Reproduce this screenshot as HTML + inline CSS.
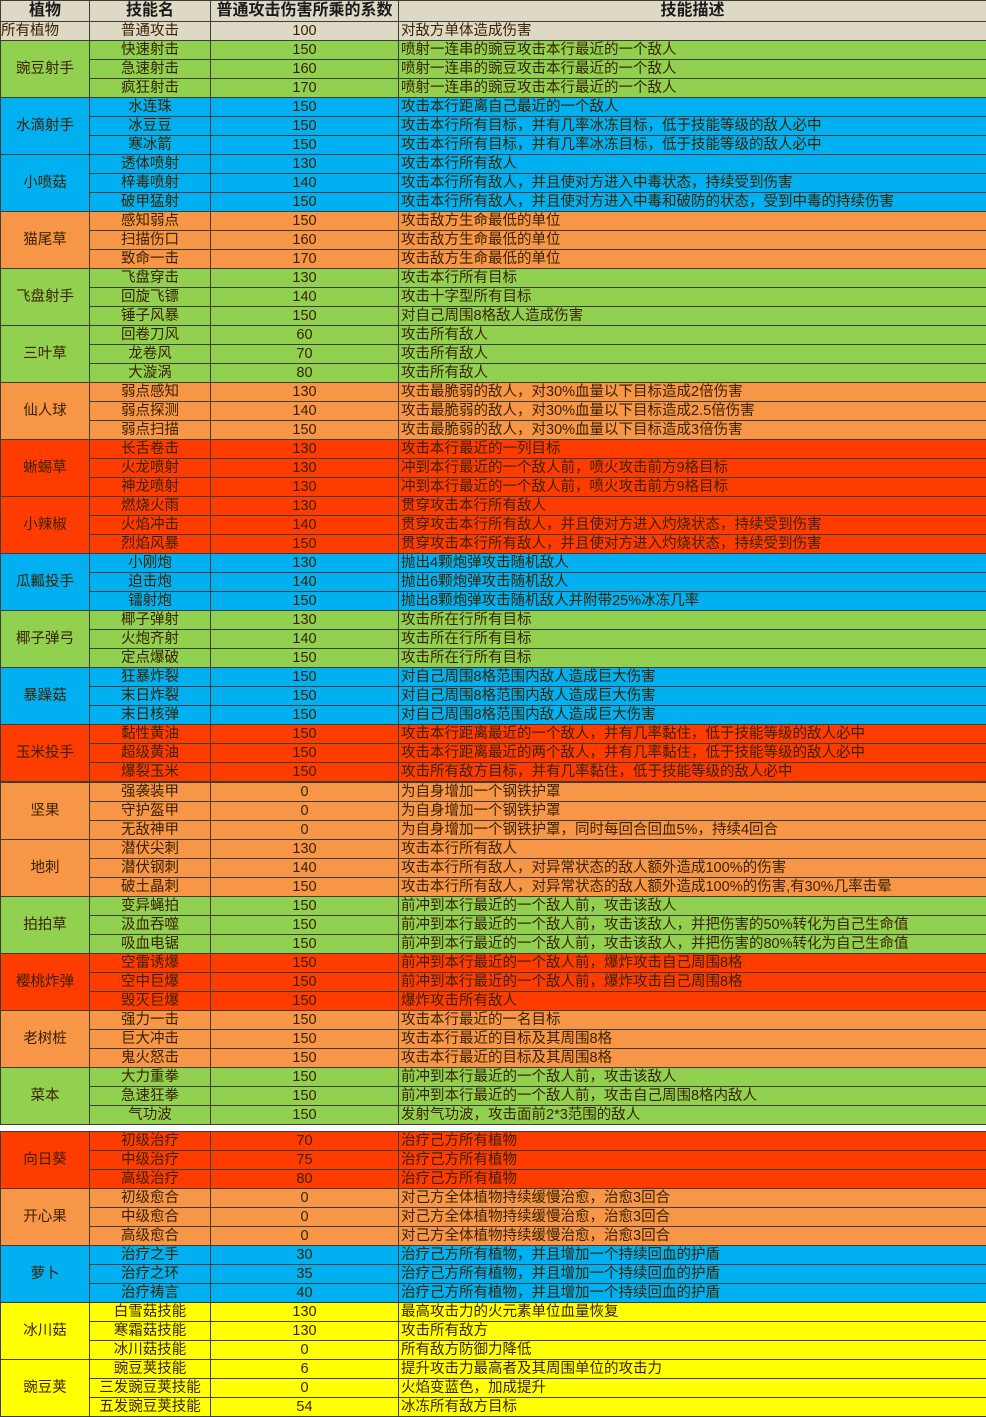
<!DOCTYPE html>
<html><head><meta charset="utf-8"><style>
body{margin:0;width:986px;height:1416px;background:#fff;position:relative;overflow:hidden;font-family:"Liberation Sans","Noto Sans CJK SC",sans-serif;}
table{position:absolute;left:0;width:986px;border-collapse:collapse;table-layout:fixed;font-size:14.5px;color:#3a2200;}
td{border:1px solid #3c3c3c;padding:0;height:19px;line-height:17px;text-align:center;white-space:nowrap;overflow:hidden;box-sizing:border-box;}
td.d{text-align:left;padding-left:2px;}
th{border:1px solid #3c3c3c;height:20px;font-weight:bold;font-size:16px;line-height:18px;background:#ddd9c4;color:#1a1a1a;padding:0;}
.g td{background:#92d050}.b td{background:#00b0f0}.o td{background:#f79646}.r td{background:#ff3c00}.y td{background:#ffff00}.w td{background:#ddd9c4}
</style></head><body>
<table style="top:0">
<colgroup><col style="width:89px"><col style="width:121px"><col style="width:188px"><col style="width:588px"></colgroup>
<tr><th>植物</th><th>技能名</th><th>普通攻击伤害所乘的系数</th><th>技能描述</th></tr>
<tr class="w"><td style="text-align:left">所有植物</td><td>普通攻击</td><td>100</td><td class="d">对敌方单体造成伤害</td></tr>
<tbody class="g"><tr><td rowspan="3">豌豆射手</td><td>快速射击</td><td>150</td><td class="d">喷射一连串的豌豆攻击本行最近的一个敌人</td></tr>
<tr><td>急速射击</td><td>160</td><td class="d">喷射一连串的豌豆攻击本行最近的一个敌人</td></tr>
<tr><td>疯狂射击</td><td>170</td><td class="d">喷射一连串的豌豆攻击本行最近的一个敌人</td></tr></tbody>
<tbody class="b"><tr><td rowspan="3">水滴射手</td><td>水连珠</td><td>150</td><td class="d">攻击本行距离自己最近的一个敌人</td></tr>
<tr><td>冰豆豆</td><td>150</td><td class="d">攻击本行所有目标，并有几率冰冻目标，低于技能等级的敌人必中</td></tr>
<tr><td>寒冰箭</td><td>150</td><td class="d">攻击本行所有目标，并有几率冰冻目标，低于技能等级的敌人必中</td></tr></tbody>
<tbody class="b"><tr><td rowspan="3">小喷菇</td><td>透体喷射</td><td>130</td><td class="d">攻击本行所有敌人</td></tr>
<tr><td>梓毒喷射</td><td>140</td><td class="d">攻击本行所有敌人，并且使对方进入中毒状态，持续受到伤害</td></tr>
<tr><td>破甲猛射</td><td>150</td><td class="d">攻击本行所有敌人，并且使对方进入中毒和破防的状态，受到中毒的持续伤害</td></tr></tbody>
<tbody class="o"><tr><td rowspan="3">猫尾草</td><td>感知弱点</td><td>150</td><td class="d">攻击敌方生命最低的单位</td></tr>
<tr><td>扫描伤口</td><td>160</td><td class="d">攻击敌方生命最低的单位</td></tr>
<tr><td>致命一击</td><td>170</td><td class="d">攻击敌方生命最低的单位</td></tr></tbody>
<tbody class="g"><tr><td rowspan="3">飞盘射手</td><td>飞盘穿击</td><td>130</td><td class="d">攻击本行所有目标</td></tr>
<tr><td>回旋飞镖</td><td>140</td><td class="d">攻击十字型所有目标</td></tr>
<tr><td>锤子风暴</td><td>150</td><td class="d">对自己周围8格敌人造成伤害</td></tr></tbody>
<tbody class="g"><tr><td rowspan="3">三叶草</td><td>回卷刀风</td><td>60</td><td class="d">攻击所有敌人</td></tr>
<tr><td>龙卷风</td><td>70</td><td class="d">攻击所有敌人</td></tr>
<tr><td>大漩涡</td><td>80</td><td class="d">攻击所有敌人</td></tr></tbody>
<tbody class="o"><tr><td rowspan="3">仙人球</td><td>弱点感知</td><td>130</td><td class="d">攻击最脆弱的敌人，对30%血量以下目标造成2倍伤害</td></tr>
<tr><td>弱点探测</td><td>140</td><td class="d">攻击最脆弱的敌人，对30%血量以下目标造成2.5倍伤害</td></tr>
<tr><td>弱点扫描</td><td>150</td><td class="d">攻击最脆弱的敌人，对30%血量以下目标造成3倍伤害</td></tr></tbody>
<tbody class="r"><tr><td rowspan="3">蜥蜴草</td><td>长舌卷击</td><td>130</td><td class="d">攻击本行最近的一列目标</td></tr>
<tr><td>火龙喷射</td><td>130</td><td class="d">冲到本行最近的一个敌人前，喷火攻击前方9格目标</td></tr>
<tr><td>神龙喷射</td><td>130</td><td class="d">冲到本行最近的一个敌人前，喷火攻击前方9格目标</td></tr></tbody>
<tbody class="r"><tr><td rowspan="3">小辣椒</td><td>燃烧火雨</td><td>130</td><td class="d">贯穿攻击本行所有敌人</td></tr>
<tr><td>火焰冲击</td><td>140</td><td class="d">贯穿攻击本行所有敌人，并且使对方进入灼烧状态，持续受到伤害</td></tr>
<tr><td>烈焰风暴</td><td>150</td><td class="d">贯穿攻击本行所有敌人，并且使对方进入灼烧状态，持续受到伤害</td></tr></tbody>
<tbody class="b"><tr><td rowspan="3">瓜瓤投手</td><td>小刚炮</td><td>130</td><td class="d">抛出4颗炮弹攻击随机敌人</td></tr>
<tr><td>迫击炮</td><td>140</td><td class="d">抛出6颗炮弹攻击随机敌人</td></tr>
<tr><td>镭射炮</td><td>150</td><td class="d">抛出8颗炮弹攻击随机敌人并附带25%冰冻几率</td></tr></tbody>
<tbody class="g"><tr><td rowspan="3">椰子弹弓</td><td>椰子弹射</td><td>130</td><td class="d">攻击所在行所有目标</td></tr>
<tr><td>火炮齐射</td><td>140</td><td class="d">攻击所在行所有目标</td></tr>
<tr><td>定点爆破</td><td>150</td><td class="d">攻击所在行所有目标</td></tr></tbody>
<tbody class="b"><tr><td rowspan="3">暴躁菇</td><td>狂暴炸裂</td><td>150</td><td class="d">对自己周围8格范围内敌人造成巨大伤害</td></tr>
<tr><td>末日炸裂</td><td>150</td><td class="d">对自己周围8格范围内敌人造成巨大伤害</td></tr>
<tr><td>末日核弹</td><td>150</td><td class="d">对自己周围8格范围内敌人造成巨大伤害</td></tr></tbody>
<tbody class="r"><tr><td rowspan="3">玉米投手</td><td>黏性黄油</td><td>150</td><td class="d">攻击本行距离最近的一个敌人，并有几率黏住，低于技能等级的敌人必中</td></tr>
<tr><td>超级黄油</td><td>150</td><td class="d">攻击本行距离最近的两个敌人，并有几率黏住，低于技能等级的敌人必中</td></tr>
<tr><td>爆裂玉米</td><td>150</td><td class="d">攻击所有敌方目标，并有几率黏住，低于技能等级的敌人必中</td></tr></tbody>
</table>

<table style="top:782px">
<colgroup><col style="width:89px"><col style="width:121px"><col style="width:188px"><col style="width:588px"></colgroup>
<tbody class="o"><tr><td rowspan="3">坚果</td><td>强袭装甲</td><td>0</td><td class="d">为自身增加一个钢铁护罩</td></tr>
<tr><td>守护盔甲</td><td>0</td><td class="d">为自身增加一个钢铁护罩</td></tr>
<tr><td>无敌神甲</td><td>0</td><td class="d">为自身增加一个钢铁护罩，同时每回合回血5%，持续4回合</td></tr></tbody>
<tbody class="o"><tr><td rowspan="3">地刺</td><td>潜伏尖刺</td><td>130</td><td class="d">攻击本行所有敌人</td></tr>
<tr><td>潜伏钢刺</td><td>140</td><td class="d">攻击本行所有敌人，对异常状态的敌人额外造成100%的伤害</td></tr>
<tr><td>破土晶刺</td><td>150</td><td class="d">攻击本行所有敌人，对异常状态的敌人额外造成100%的伤害,有30%几率击晕</td></tr></tbody>
<tbody class="g"><tr><td rowspan="3">拍拍草</td><td>变异蝇拍</td><td>150</td><td class="d">前冲到本行最近的一个敌人前，攻击该敌人</td></tr>
<tr><td>汲血吞噬</td><td>150</td><td class="d">前冲到本行最近的一个敌人前，攻击该敌人，并把伤害的50%转化为自己生命值</td></tr>
<tr><td>吸血电锯</td><td>150</td><td class="d">前冲到本行最近的一个敌人前，攻击该敌人，并把伤害的80%转化为自己生命值</td></tr></tbody>
<tbody class="r"><tr><td rowspan="3">樱桃炸弹</td><td>空雷诱爆</td><td>150</td><td class="d">前冲到本行最近的一个敌人前，爆炸攻击自己周围8格</td></tr>
<tr><td>空中巨爆</td><td>150</td><td class="d">前冲到本行最近的一个敌人前，爆炸攻击自己周围8格</td></tr>
<tr><td>毁灭巨爆</td><td>150</td><td class="d">爆炸攻击所有敌人</td></tr></tbody>
<tbody class="o"><tr><td rowspan="3">老树桩</td><td>强力一击</td><td>150</td><td class="d">攻击本行最近的一名目标</td></tr>
<tr><td>巨大冲击</td><td>150</td><td class="d">攻击本行最近的目标及其周围8格</td></tr>
<tr><td>鬼火怒击</td><td>150</td><td class="d">攻击本行最近的目标及其周围8格</td></tr></tbody>
<tbody class="g"><tr><td rowspan="3">菜本</td><td>大力重拳</td><td>150</td><td class="d">前冲到本行最近的一个敌人前，攻击该敌人</td></tr>
<tr><td>急速狂拳</td><td>150</td><td class="d">前冲到本行最近的一个敌人前，攻击自己周围8格内敌人</td></tr>
<tr><td>气功波</td><td>150</td><td class="d">发射气功波，攻击面前2*3范围的敌人</td></tr></tbody>
</table>

<table style="top:1131px">
<colgroup><col style="width:89px"><col style="width:121px"><col style="width:188px"><col style="width:588px"></colgroup>
<tbody class="r"><tr><td rowspan="3">向日葵</td><td>初级治疗</td><td>70</td><td class="d">治疗己方所有植物</td></tr>
<tr><td>中级治疗</td><td>75</td><td class="d">治疗己方所有植物</td></tr>
<tr><td>高级治疗</td><td>80</td><td class="d">治疗己方所有植物</td></tr></tbody>
<tbody class="o"><tr><td rowspan="3">开心果</td><td>初级愈合</td><td>0</td><td class="d">对己方全体植物持续缓慢治愈，治愈3回合</td></tr>
<tr><td>中级愈合</td><td>0</td><td class="d">对己方全体植物持续缓慢治愈，治愈3回合</td></tr>
<tr><td>高级愈合</td><td>0</td><td class="d">对己方全体植物持续缓慢治愈，治愈3回合</td></tr></tbody>
<tbody class="b"><tr><td rowspan="3">萝卜</td><td>治疗之手</td><td>30</td><td class="d">治疗己方所有植物，并且增加一个持续回血的护盾</td></tr>
<tr><td>治疗之环</td><td>35</td><td class="d">治疗己方所有植物，并且增加一个持续回血的护盾</td></tr>
<tr><td>治疗祷言</td><td>40</td><td class="d">治疗己方所有植物，并且增加一个持续回血的护盾</td></tr></tbody>
<tbody class="y"><tr><td rowspan="3">冰川菇</td><td>白雪菇技能</td><td>130</td><td class="d">最高攻击力的火元素单位血量恢复</td></tr>
<tr><td>寒霜菇技能</td><td>130</td><td class="d">攻击所有敌方</td></tr>
<tr><td>冰川菇技能</td><td>0</td><td class="d">所有敌方防御力降低</td></tr></tbody>
<tbody class="y"><tr><td rowspan="3">豌豆荚</td><td>豌豆荚技能</td><td>6</td><td class="d">提升攻击力最高者及其周围单位的攻击力</td></tr>
<tr><td>三发豌豆荚技能</td><td>0</td><td class="d">火焰变蓝色，加成提升</td></tr>
<tr><td>五发豌豆荚技能</td><td>54</td><td class="d">冰冻所有敌方目标</td></tr></tbody>
</table>
</body></html>
